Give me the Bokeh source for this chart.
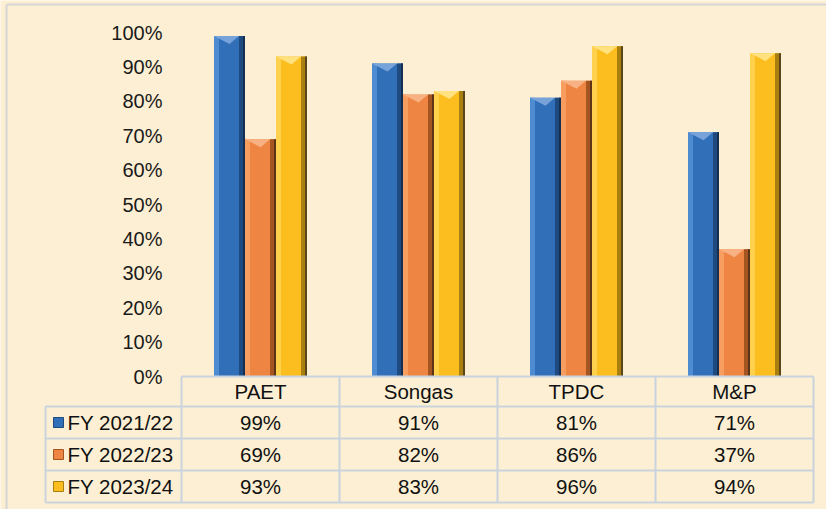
from bokeh.plotting import figure
from bokeh.models import Range1d, ColumnDataSource
from bokeh.core.properties import value
from bokeh.embed import file_html
from bokeh.resources import INLINE

# ---------------- data ----------------
categories = ["PAET", "Songas", "TPDC", "M&P"]
series_names = ["FY 2021/22", "FY 2022/23", "FY 2023/24"]
fy_2021_22 = [99, 91, 81, 71]
fy_2022_23 = [69, 82, 86, 37]
fy_2023_24 = [93, 83, 96, 94]
y_tick_values = [0, 10, 20, 30, 40, 50, 60, 70, 80, 90, 100]
y_tick_labels = ["0%", "10%", "20%", "30%", "40%", "50%", "60%", "70%", "80%", "90%", "100%"]

series_values = [fy_2021_22, fy_2022_23, fy_2023_24]

# ---------------- styles ----------------
BG = "#FCEFD3"
GRID = "#C9D3DE"
FONT = value("Liberation Sans")
palette = [
    # base, left light, right dark, outer edge, top cap
    ("#3170B8", "#4F8BD0", "#1F4A80", "#152F52", "#7FA9DE"),
    ("#EF8543", "#F79D60", "#A5551F", "#5E3418", "#F8B68A"),
    ("#FCBE1E", "#FFD14C", "#A97F10", "#5A4618", "#FFE488"),
]

# layout (158 px per category, 3.44 px per percent)
PX_X = 158.0
PX_Y = 3.44
W, H = 826, 509
x0 = -181.0 / PX_X
x1 = x0 + W / PX_X
y1 = 376.0 / PX_Y
y0 = y1 - H / PX_Y

p = figure(width=W, height=H, x_range=Range1d(x0, x1), y_range=Range1d(y0, y1),
           output_backend="svg", toolbar_location=None,
           x_axis_type=None, y_axis_type=None, min_border=0,
           background_fill_color=BG, border_fill_color=BG,
           outline_line_color=None)

# ---------------- bars ----------------
bar_w = 31.0 / PX_X
light_w = 5.0 / PX_X
dark_w = 6.0 / PX_X
edge_w = 2.0 / PX_X
cap_h = 8.0 / PX_Y
offsets = [-bar_w, 0.0, bar_w]

for s, vals in enumerate(series_values):
    base, light, dark, edge, cap = palette[s]
    xs = [i + 0.5 + offsets[s] for i in range(len(categories))]
    src = ColumnDataSource(dict(x=xs, top=vals))
    p.vbar(x="x", top="top", bottom=0, width=bar_w, source=src,
           fill_color=base, line_color=None)
    src_l = ColumnDataSource(dict(x=[x - bar_w / 2 + light_w / 2 for x in xs], top=vals))
    p.vbar(x="x", top="top", bottom=0, width=light_w, source=src_l,
           fill_color=light, line_color=None)
    src_r = ColumnDataSource(dict(x=[x + bar_w / 2 - dark_w / 2 for x in xs], top=vals))
    p.vbar(x="x", top="top", bottom=0, width=dark_w, source=src_r,
           fill_color=dark, line_color=None)
    src_e = ColumnDataSource(dict(x=[x + bar_w / 2 - edge_w / 2 for x in xs], top=vals))
    p.vbar(x="x", top="top", bottom=0, width=edge_w, source=src_e,
           fill_color=edge, line_color=None)
    # top bevel chevron
    cap_xs = [[x - bar_w / 2, x + bar_w / 2 - dark_w, x] for x in xs]
    cap_ys = [[v, v, v - cap_h] for v in vals]
    p.patches(cap_xs, cap_ys, fill_color=cap, line_color=None, fill_alpha=0.9)

# ---------------- y tick labels ----------------
tick_src = ColumnDataSource(dict(x=[-19.0 / PX_X] * len(y_tick_values),
                                 y=y_tick_values, t=y_tick_labels))
p.text(x="x", y="y", text="t", source=tick_src, text_font=FONT,
       text_font_size="20px", text_align="right", text_baseline="middle",
       text_color="#1A1A1A")

# ---------------- data table ----------------
row_lines = [0.0, -30.0 / PX_Y, -62.0 / PX_Y, -94.0 / PX_Y, -126.0 / PX_Y]
legend_left = -136.0 / PX_X
ncat = len(categories)

hx0 = [0.0] + [legend_left] * 4
hx1 = [float(ncat)] * 5
p.segment(x0=hx0, y0=row_lines, x1=hx1, y1=row_lines, line_color=GRID, line_width=2)
vx = [legend_left] + [float(i) for i in range(ncat + 1)]
vy0 = [row_lines[1]] + [row_lines[0]] * (ncat + 1)
vy1 = [row_lines[-1]] * (ncat + 2)
p.segment(x0=vx, y0=vy0, x1=vx, y1=vy1, line_color=GRID, line_width=2)

head_src = ColumnDataSource(dict(x=[i + 0.5 for i in range(ncat)],
                                 y=[(row_lines[0] + row_lines[1]) / 2] * ncat,
                                 t=categories))
p.text(x="x", y="y", text="t", source=head_src, text_font=FONT,
       text_font_size="20.5px", text_align="center", text_baseline="middle",
       text_color="#111111")

for s, vals in enumerate(series_values):
    yc = (row_lines[s + 1] + row_lines[s + 2]) / 2
    cell_src = ColumnDataSource(dict(x=[i + 0.5 for i in range(ncat)], y=[yc] * ncat,
                                     t=[f"{v}%" for v in vals]))
    p.text(x="x", y="y", text="t", source=cell_src, text_font=FONT,
           text_font_size="20.5px", text_align="center", text_baseline="middle",
           text_color="#111111")
    base, light, dark, edge, cap = palette[s]
    p.scatter(x=[-123.0 / PX_X], y=[yc], marker="square", size=10,
              fill_color=base, line_color=dark, line_width=1)
    p.text(x=[-114.0 / PX_X], y=[yc], text=[series_names[s]], text_font=FONT,
           text_font_size="20.5px", text_align="left", text_baseline="middle",
           text_color="#111111")

# outer frame hint (left / top edges)
p.segment(x0=[x0 + 6.0 / PX_X, x0 + 6.0 / PX_X], y0=[y0, y1 - 4.0 / PX_Y],
          x1=[x0 + 6.0 / PX_X, x1], y1=[y1 - 4.0 / PX_Y, y1 - 4.0 / PX_Y],
          line_color="#D6D6D6", line_width=2)

open("out.html", "w").write(file_html(p, INLINE))
